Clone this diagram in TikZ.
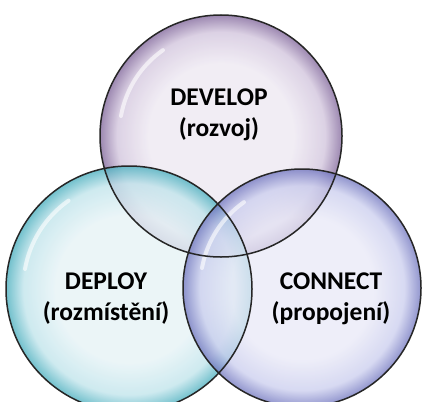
\documentclass[tikz,border=0pt]{standalone}
\usepackage{fontspec}
\setmainfont{Carlito}
\definecolor{pA}{HTML}{EFEAF3}
\definecolor{pB}{HTML}{D6CAE0}
\definecolor{pC}{HTML}{8C74A4}
\definecolor{tA}{HTML}{E6F3F6}
\definecolor{tB}{HTML}{C2E5EC}
\definecolor{tC}{HTML}{4FB1C0}
\definecolor{bA}{HTML}{E9E9F7}
\definecolor{bB}{HTML}{CACDEE}
\definecolor{bC}{HTML}{6E73BE}
\pgfdeclareradialshading{bubP}{\pgfpoint{0bp}{0bp}}{color(0bp)=(pA); color(15bp)=(pA); color(21.5bp)=(pB); color(25bp)=(pC); color(50bp)=(pC)}
\pgfdeclareradialshading{bubT}{\pgfpoint{0bp}{0bp}}{color(0bp)=(tA); color(15bp)=(tA); color(21.5bp)=(tB); color(25bp)=(tC); color(50bp)=(tC)}
\pgfdeclareradialshading{bubB}{\pgfpoint{0bp}{0bp}}{color(0bp)=(bA); color(15bp)=(bA); color(21.5bp)=(bB); color(25bp)=(bC); color(50bp)=(bC)}
\tikzset{
  bubble/.style={circle, inner sep=0pt, minimum size=#1},
  rim/.style={draw=black!85, line width=1.5pt},
  glare/.style={white, line width=4pt, line cap=round, opacity=0.6},
  label/.style={font=\fontsize{25.5}{31}\selectfont\bfseries, align=center, text=black}
}
\begin{document}
\begin{tikzpicture}[x=1pt,y=-1pt]
\useasboundingbox (0,0) rectangle (422,401);
\fill[white] (0,0) rectangle (422,401);
% bubbles
\node[bubble=242pt] (dev) at (221,136) {};
\node[bubble=246pt] (dep) at (129,289) {};
\node[bubble=238pt] (con) at (302,288) {};
\begin{scope}
\clip (0,0) rectangle (422,401);
\shade[shading=bubP, fill opacity=0.85] (dev.center) circle[radius=121];
\shade[shading=bubT, fill opacity=0.8] (dep.center) circle[radius=123];
\shade[shading=bubB, fill opacity=0.75] (con.center) circle[radius=119];
% glare highlights
\draw[glare] ([shift={(-100,-20)}]dev.center) arc[start angle=190, end angle=235, radius=102];
\draw[glare] ([shift={(-104,-20)}]dep.center) arc[start angle=190, end angle=235, radius=106];
\draw[glare] ([shift={(-100,-20)}]con.center) arc[start angle=190, end angle=235, radius=102];
\draw[rim] (dev.center) circle[radius=121];
\draw[rim] (dep.center) circle[radius=123];
\draw[rim] (con.center) circle[radius=119];
\end{scope}
% labels
\node[label] (tdev) at (219,115) {DEVELOP\\(rozvoj)};
\node[label] (tdep) at (106,299) {DEPLOY\\(rozmístění)};
\node[label] (tcon) at (331,299) {CONNECT\\(propojení)};
\end{tikzpicture}
\end{document}
